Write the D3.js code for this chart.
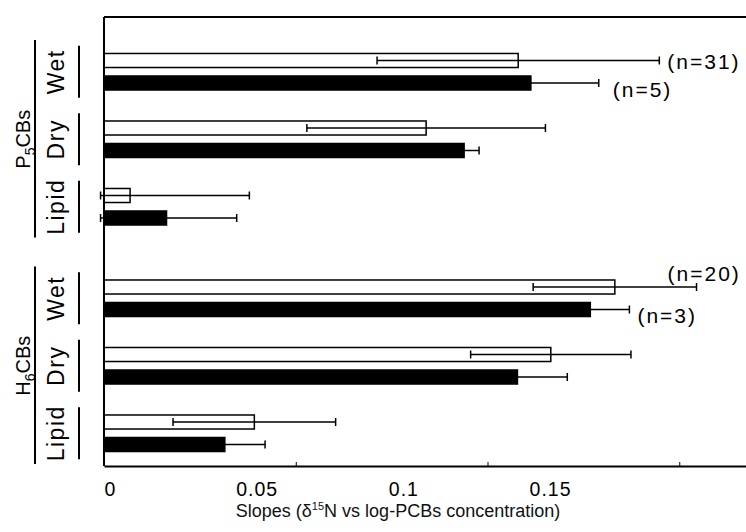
<!DOCTYPE html>
<html>
<head>
<meta charset="utf-8">
<script src="https://cdn.jsdelivr.net/npm/d3@7"></script>
<style>
  body { margin: 0; background: #fff; }
  svg { display: block; font-family: "Liberation Sans", Arial, sans-serif; }
</style>
</head>
<body>
<div id="chart"></div>
<script>
// congener groups and tissue basis, top to bottom
const groups = ["P5CBs", "H6CBs"];
const measures = ["Wet", "Dry", "Lipid"];
const series = ["all", "subset"];   // white bars, black bars

// slopes, order: P5 wet, dry, lipid, H6 wet, dry, lipid
const slopeAll = [0.108, 0.084, 0.0068, 0.1332, 0.1165, 0.0392];
const errAll = [0.0368, 0.0311, 0.0311, 0.0213, 0.0209, 0.0212];
const slopeSubset = [0.1115, 0.0941, 0.0165, 0.127, 0.108, 0.0317];
const errSubset = [0.0175, 0.0037, 0.0181, 0.010, 0.0128, 0.0103];

const nLabels = ["(n=31)", "(n=5)", "(n=20)", "(n=3)"];
const nLabelRows = [
    {group: "P5CBs", measure: "Wet", s: "all"},
    {group: "P5CBs", measure: "Wet", s: "subset"},
    {group: "H6CBs", measure: "Wet", s: "all"},
    {group: "H6CBs", measure: "Wet", s: "subset"}
];
const xTicks = [0, 0.05, 0.1, 0.15];
const xMin = -0.0009; // whiskers are cut here, just left of the axis

const width = 746, height = 532;
const svg = d3.select("#chart").append("svg")
    .attr("width", width).attr("height", height);

const rows = [];
groups.forEach((g, gi) => measures.forEach((m, mi) => {
    const i = gi * 3 + mi;
    rows.push({group: g, measure: m, s: "all", v: slopeAll[i], e: errAll[i]});
    rows.push({group: g, measure: m, s: "subset", v: slopeSubset[i], e: errSubset[i]});
}));

// scales
const x = d3.scaleLinear().domain([0, 0.1674]).range([104, 746]);
const xLab = d3.scaleLinear().domain([0, 0.15]).range([110, 550]);
const y0 = d3.scaleBand().domain(groups).range([38, 467]).paddingInner(0.106);
const y1 = d3.scaleBand().domain(measures).range([0, y0.bandwidth()]);
const y2 = d3.scaleBand().domain(series).range([0, y1.bandwidth()])
    .paddingInner(0.31).paddingOuter(0.655);

const rowY = d => y0(d.group) + y1(d.measure);
const barY = d => rowY(d) + y2(d.s);
const barMid = d => barY(d) + y2.bandwidth() / 2;

const plotTop = 17, plotBottom = 466;

// bars
svg.append("g").attr("id", "bars")
    .selectAll("rect")
    .data(rows)
    .join("rect")
    .attr("x", x(0))
    .attr("y", d => d.s === "all" ? barY(d) + 0.75 : barY(d))
    .attr("width", d => x(d.v) - x(0))
    .attr("height", d => d.s === "all" ? y2.bandwidth() - 1.5 : y2.bandwidth())
    .attr("fill", d => d.s === "all" ? "#fff" : "#000")
    .attr("stroke", "#000")
    .attr("stroke-width", d => d.s === "all" ? 1.5 : 0);

// error bars
const err = svg.append("g").attr("id", "errors")
    .attr("stroke", "#000").attr("stroke-width", 1.5);
err.selectAll("line.whisker")
    .data(rows)
    .join("line")
    .attr("class", "whisker")
    .attr("x1", d => x(Math.max(d.v - d.e, xMin)))
    .attr("x2", d => x(d.v + d.e))
    .attr("y1", barMid).attr("y2", barMid);
err.selectAll("line.capLo")
    .data(rows)
    .join("line")
    .attr("class", "capLo")
    .attr("x1", d => x(Math.max(d.v - d.e, xMin)))
    .attr("x2", d => x(Math.max(d.v - d.e, xMin)))
    .attr("y1", d => barMid(d) - 4).attr("y2", d => barMid(d) + 4);
err.selectAll("line.capHi")
    .data(rows)
    .join("line")
    .attr("class", "capHi")
    .attr("x1", d => x(d.v + d.e))
    .attr("x2", d => x(d.v + d.e))
    .attr("y1", d => barMid(d) - 4).attr("y2", d => barMid(d) + 4);

// frame: left axis, top line
svg.append("line")
    .attr("x1", x(0)).attr("x2", x(0))
    .attr("y1", plotTop).attr("y2", plotBottom)
    .attr("stroke", "#000").attr("stroke-width", 2);
svg.append("line")
    .attr("x1", x(0)).attr("x2", width)
    .attr("y1", plotTop).attr("y2", plotTop)
    .attr("stroke", "#000").attr("stroke-width", 2);

// bottom axis: inner ticks
const xAxis = svg.append("g")
    .attr("transform", `translate(0,${plotBottom})`)
    .call(d3.axisBottom(x).tickValues([0.05, 0.1, 0.15]).tickSize(-4)
        .tickSizeOuter(0).tickFormat(""));
xAxis.select(".domain").attr("stroke-width", 2);
xAxis.selectAll(".tick line").attr("stroke-width", 1);

// tick labels
const xLabAxis = svg.append("g")
    .attr("transform", `translate(0,${plotBottom})`)
    .call(d3.axisBottom(xLab).tickValues(xTicks).tickSize(0).tickPadding(16)
        .tickFormat(d => d === 0 ? "0" : String(d)));
xLabAxis.select(".domain").remove();
xLabAxis.selectAll("text")
    .attr("font-family", "Liberation Sans, Arial, sans-serif")
    .attr("font-size", 19.5)
    .attr("letter-spacing", 1)
    .attr("fill", "#000");

// axis title
const title = svg.append("text")
    .attr("x", 398).attr("y", 517)
    .attr("text-anchor", "middle")
    .attr("font-size", 18)
    .attr("fill", "#111");
title.append("tspan").text("Slopes (\u03B4");
title.append("tspan").attr("font-size", 11).attr("dy", -7).text("15");
title.append("tspan").attr("dy", 7).text("N vs log-PCBs concentration)");

// row labels and their short lines
const rowKeys = [];
groups.forEach(g => measures.forEach(m => rowKeys.push({group: g, measure: m})));
const rowMid = d => y0(d.group) + y1(d.measure) + y1.bandwidth() / 2;

svg.append("g").selectAll("text")
    .data(rowKeys)
    .join("text")
    .attr("transform", d => `translate(64,${rowMid(d)}) rotate(-90)`)
    .attr("text-anchor", "middle")
    .attr("font-size", 23)
    .attr("letter-spacing", 1.5)
    .attr("fill", "#000")
    .text(d => d.measure);

svg.append("g").selectAll("line")
    .data(rowKeys)
    .join("line")
    .attr("x1", 79).attr("x2", 79)
    .attr("y1", d => rowMid(d) - 26).attr("y2", d => rowMid(d) + 26)
    .attr("stroke", "#000").attr("stroke-width", 2);

// group labels and brackets
svg.append("g").selectAll("line")
    .data(groups)
    .join("line")
    .attr("x1", 35).attr("x2", 35)
    .attr("y1", g => y0(g) + 2).attr("y2", g => y0(g) + y0.bandwidth() - 3)
    .attr("stroke", "#000").attr("stroke-width", 2);

const gl = svg.append("g").selectAll("text")
    .data(groups)
    .join("text")
    .attr("transform", g => `translate(30,${y0(g) + y0.bandwidth() / 2}) rotate(-90)`)
    .attr("text-anchor", "middle")
    .attr("font-size", 20)
    .attr("fill", "#000");
gl.append("tspan").text(g => g[0]);
gl.append("tspan").attr("font-size", 14).attr("dy", 5).text(g => g[1]);
gl.append("tspan").attr("dy", -5).text(g => g.slice(2));

// sample size notes
const noteOffset = [[8, 1.5], [14, 7], [-29, -13.5], [8, 6]];
svg.append("g").selectAll("text")
    .data(nLabelRows)
    .join("text")
    .attr("x", (d, i) => {
        const r = rows.find(q => q.group === d.group && q.measure === d.measure && q.s === d.s);
        return x(r.v + r.e) + noteOffset[i][0];
    })
    .attr("y", (d, i) => {
        const r = rows.find(q => q.group === d.group && q.measure === d.measure && q.s === d.s);
        return barMid(r) + noteOffset[i][1];
    })
    .attr("dy", "0.35em")
    .attr("font-size", 21)
    .attr("letter-spacing", 2)
    .attr("fill", "#000")
    .text((d, i) => nLabels[i]);
</script>
</body>
</html>
